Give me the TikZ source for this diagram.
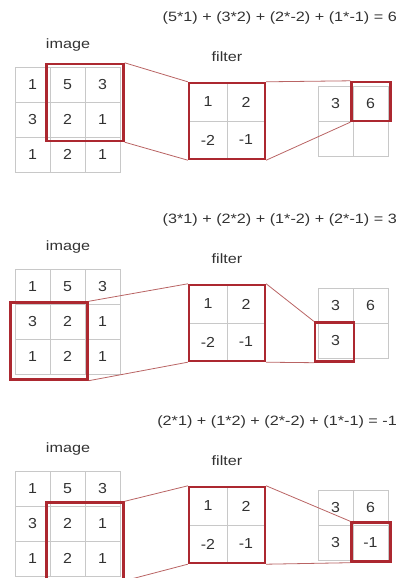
\documentclass[tikz,border=0pt]{standalone}
\usepackage{fontspec}
\setmainfont{Liberation Sans}
\newfontfamily\widefont[FakeStretch=1.2]{Liberation Sans}
\newfontfamily\cellfont[FakeStretch=1.1]{Liberation Sans}
\definecolor{boxred}{RGB}{172,40,48}
\definecolor{linkred}{RGB}{185,100,100}
\definecolor{gridgray}{RGB}{200,200,200}
\definecolor{txt}{RGB}{50,50,50}
\tikzset{
  cellnum/.style={font=\cellfont\fontsize{14.5}{15}\selectfont, text=txt, inner sep=0pt},
  imgcell/.style={cellnum, draw=gridgray, line width=0.8pt, minimum size=35pt},
  fltcell/.style={cellnum, draw=gridgray, line width=0.8pt, minimum size=38pt},
  outcell/.style={cellnum, draw=gridgray, line width=0.8pt, minimum size=35pt},
  redbox/.style={draw=boxred, line width=2.4pt, minimum size=77pt, inner sep=0pt},
  fltbox/.style={draw=boxred, line width=2.4pt, minimum size=76pt, inner sep=0pt},
  outbox/.style={draw=boxred, line width=2.4pt, minimum size=39pt, inner sep=0pt},
  link/.style={draw=linkred, line width=0.8pt},
  lbl/.style={font=\widefont\fontsize{13.5}{15}\selectfont, text=txt, inner sep=0pt},
  eqn/.style={font=\widefont\fontsize{13.5}{15}\selectfont, text=txt, anchor=east, inner sep=0pt},
}
% shared part of one panel: #1 = id
\newcommand\convshared[1]{%
  \node[lbl] (imglbl#1) at (68,45) {image};
  \node[lbl] (fltlbl#1) at (227,57) {filter};
  \node[imgcell] (i#1a) at (32.5,84.5) {1};
  \node[imgcell] (i#1b) at (67.5,84.5) {5};
  \node[imgcell] (i#1c) at (102.5,84.5) {3};
  \node[imgcell] (i#1d) at (32.5,119.5) {3};
  \node[imgcell] (i#1e) at (67.5,119.5) {2};
  \node[imgcell] (i#1f) at (102.5,119.5) {1};
  \node[imgcell] (i#1g) at (32.5,154.5) {1};
  \node[imgcell] (i#1h) at (67.5,154.5) {2};
  \node[imgcell] (i#1k) at (102.5,154.5) {1};
  \node[fltcell] (f#1a) at (208,102) {1};
  \node[fltcell] (f#1b) at (246,102) {2};
  \node[fltcell] (f#1c) at (208,140) {-2};
  \node[fltcell] (f#1d) at (246,140) {-1};
  \node[fltbox] (flt#1) at (227,121) {};
}
\begin{document}
\begin{tikzpicture}[x=1pt,y=-1pt]
\useasboundingbox (0,0) rectangle (400,578);
\clip (0,0) rectangle (400,578);
% ---------- panel 1
\begin{scope}
  \node[eqn] (eq1) at (397,18) {(5*1) + (3*2) + (2*-2) + (1*-1) = 6};
  \convshared{1}
  \node[outcell] (o1a) at (335.5,103.5) {3};
  \node[outcell] (o1b) at (370.5,103.5) {6};
  \node[outcell] (o1c) at (335.5,138.5) {};
  \node[outcell] (o1d) at (370.5,138.5) {};
  \node[redbox] (img1) at (85,102.5) {};
  \node[outbox] (out1) at (371,101.5) {};
  \draw[link] (img1.north east) -- (flt1.north west);
  \draw[link] (img1.south east) -- (flt1.south west);
  \draw[link] (flt1.north east) -- (out1.north west);
  \draw[link] (flt1.south east) -- (out1.south west);
\end{scope}
% ---------- panel 2
\begin{scope}[shift={(0,202)}]
  \node[eqn] (eq2) at (397,18) {(3*1) + (2*2) + (1*-2) + (2*-1) = 3};
  \convshared{2}
  \node[outcell] (o2a) at (335.5,103.5) {3};
  \node[outcell] (o2b) at (370.5,103.5) {6};
  \node[outcell] (o2c) at (335.5,138.5) {3};
  \node[outcell] (o2d) at (370.5,138.5) {};
  \node[redbox] (img2) at (49,139) {};
  \node[outbox] (out2) at (334.5,140) {};
  \draw[link] (img2.north east) -- (flt2.north west);
  \draw[link] (img2.south east) -- (flt2.south west);
  \draw[link] (flt2.north east) -- (out2.north west);
  \draw[link] (flt2.south east) -- (out2.south west);
\end{scope}
% ---------- panel 3
\begin{scope}[shift={(0,404)}]
  \node[eqn] (eq3) at (397,18) {(2*1) + (1*2) + (2*-2) + (1*-1) = -1};
  \convshared{3}
  \node[outcell] (o3a) at (335.5,103.5) {3};
  \node[outcell] (o3b) at (370.5,103.5) {6};
  \node[outcell] (o3c) at (335.5,138.5) {3};
  \node[outcell] (o3d) at (370.5,138.5) {-1};
  \node[redbox] (img3) at (85,137) {};
  \node[outbox] (out3) at (371,138) {};
  \draw[link] (img3.north east) -- (flt3.north west);
  \draw[link] (img3.south east) -- (flt3.south west);
  \draw[link] (flt3.north east) -- (out3.north west);
  \draw[link] (flt3.south east) -- (out3.south west);
\end{scope}
\end{tikzpicture}
\end{document}
